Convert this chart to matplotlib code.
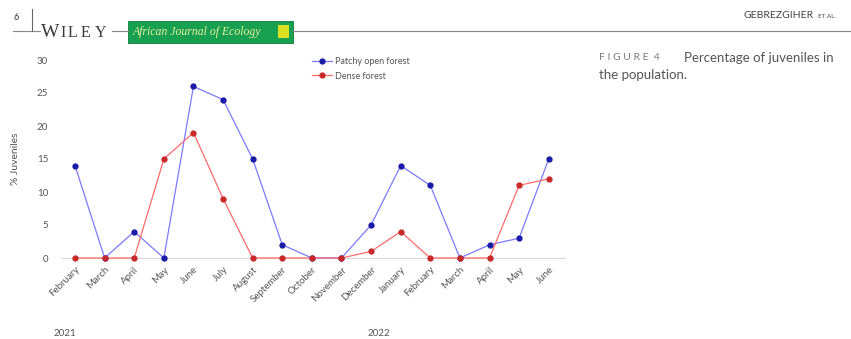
import numpy as np
import matplotlib as mpl
mpl.use("Agg")
from matplotlib import pyplot as plt
from matplotlib.patches import Rectangle

# Monthly juvenile share, February 2021 - June 2022
MONTHS = ['February', 'March', 'April', 'May', 'June', 'July', 'August',
          'September', 'October', 'November', 'December', 'January',
          'February', 'March', 'April', 'May', 'June']
PATCHY_OPEN = [14, 0, 4, 0, 26, 24, 15, 2, 0, 0, 5, 14, 11, 0, 2, 3, 15]
DENSE = [0, 0, 0, 15, 19, 9, 0, 0, 0, 0, 1, 4, 0, 0, 0, 11, 12]
Y_TICKS = [0, 5, 10, 15, 20, 25, 30]
YEARS = ['2021', '2022']

plt.rcParams['font.family'] = ['Lato', 'DejaVu Sans']

W, H = 851, 339


def fx(px):
    return px / W


def fy(py):
    return 1 - py / H


fig = plt.figure(figsize=(8.51, 3.39), dpi=100)
fig.patch.set_facecolor('white')

# Page header: rule, page number, journal banner
fig.add_artist(plt.Line2D([fx(13), fx(40)], [fy(31), fy(31)], color='#8a8a8a', lw=0.8))
fig.add_artist(plt.Line2D([fx(112), fx(128)], [fy(31), fy(31)], color='#8a8a8a', lw=0.8))
fig.add_artist(plt.Line2D([fx(293), 1.0], [fy(31), fy(31)], color='#8a8a8a', lw=0.8))
fig.add_artist(plt.Line2D([fx(32), fx(32)], [fy(9), fy(31)], color='#666666', lw=0.8))
fig.text(fx(14), fy(17), '6', fontsize=6.5, color='#333333', ha='left', va='center')
fig.text(fx(41), fy(37), 'W', fontsize=14, color='#3a3a3a', family='Liberation Serif',
         ha='left', va='baseline')
for letter, px in zip('ILEY', [60, 68, 81, 95]):
    fig.text(fx(px), fy(37), letter, fontsize=11.5, color='#3a3a3a', family='Liberation Serif',
             ha='left', va='baseline')
fig.add_artist(Rectangle((fx(128), fy(43)), fx(165), 22 / H, transform=fig.transFigure,
                         facecolor='#17a050', edgecolor='#0d7a3a', lw=0.6))
fig.text(fx(133), fy(32), 'African Journal of Ecology', fontsize=8.5, color='#e8eea0',
         family='Liberation Serif', style='italic', ha='left', va='center')
fig.add_artist(Rectangle((fx(278), fy(38)), fx(11), 13 / H, transform=fig.transFigure,
                         facecolor='#d8e020', edgecolor='none'))
fig.text(fx(743), fy(16), 'GEBREZGIHER', fontsize=7.5, color='#444444', ha='left', va='center')
fig.text(fx(818), fy(17), 'ET AL.', fontsize=4.5, color='#444444', ha='left', va='center')

# Caption
fig.text(fx(599), fy(58), 'F I G U R E  4', fontsize=7.5, color='#7a7a7a', ha='left', va='center')
fig.text(fx(684), fy(58), 'Percentage of juveniles in', fontsize=9.5, color='#555555',
         ha='left', va='center')
fig.text(fx(599), fy(75), 'the population.', fontsize=9.5, color='#555555', ha='left', va='center')

# Main chart
ax = fig.add_axes([fx(62), fy(258), (565 - 62) / W, (258 - 60) / H])
x = np.arange(len(MONTHS))
ax.plot(x, PATCHY_OPEN, color='#7a7aff', lw=0.9, marker='o', ms=3.5,
        mfc='#1a1aa8', mec='#1a1aa8', label='Patchy open forest', clip_on=False, zorder=3)
ax.plot(x, DENSE, color='#ff6a6a', lw=0.9, marker='o', ms=3.5,
        mfc='#c82828', mec='#c82828', label='Dense forest', clip_on=False, zorder=3)

ax.set_xlim(-0.44, 16.55)
ax.set_ylim(0, 30)
ax.set_yticks(Y_TICKS)
ax.set_yticklabels([str(t) for t in Y_TICKS], fontsize=7, color='#555555')
ax.set_xticks(x)
ax.set_xticklabels(MONTHS, rotation=45, ha='right', rotation_mode='anchor', fontsize=7, color='#555555')
ax.tick_params(axis='both', length=0, pad=5)
ax.tick_params(axis='y', pad=10)
for side in ['top', 'right', 'left']:
    ax.spines[side].set_visible(False)
ax.spines['bottom'].set_color('#d8d8d8')
ax.spines['bottom'].set_linewidth(0.8)
ax.set_ylabel('% Juveniles', fontsize=7.5, color='#555555', labelpad=12)
ax.patch.set_alpha(0)

leg = ax.legend(loc='upper left', bbox_to_anchor=(242 / 503, 1.055), frameon=False, fontsize=6.5,
                handlelength=2.2, handletextpad=0.3, labelspacing=0.6)
for t in leg.get_texts():
    t.set_color('#555555')

# Year markers under the month labels
fig.text(fx(53), fy(333), YEARS[0], fontsize=7, color='#555555', ha='left', va='center')
fig.text(fx(368), fy(333), YEARS[1], fontsize=7, color='#555555', ha='left', va='center')

fig.savefig('out.png', dpi=100, facecolor='white')
